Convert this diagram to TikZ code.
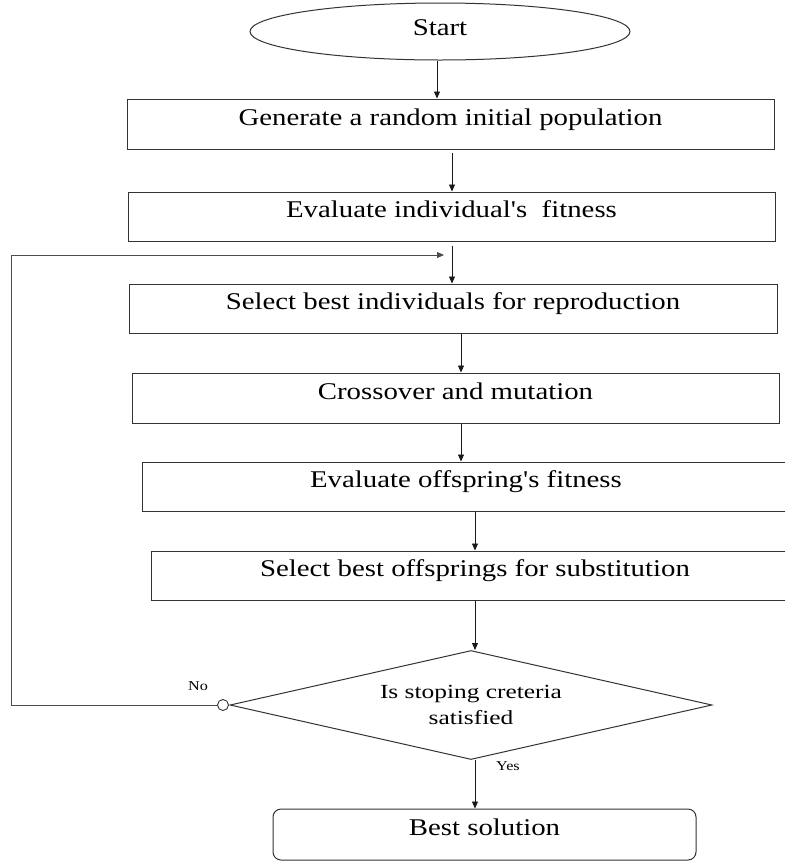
\documentclass[tikz,border=0pt]{standalone}
\usepackage{fontspec}
\setmainfont{Liberation Serif}
\usetikzlibrary{shapes.geometric,arrows.meta}
\newcommand\wt[1]{\scalebox{1.2}[1]{#1}}
\newcommand\wtd[1]{\scalebox{1.27}[1]{#1}}
\tikzset{
  boxnode/.style={draw=black!80, line width=1pt, rectangle, inner sep=0pt,
    text height=16pt, text depth=13.2pt, font=\fontsize{24}{28}\selectfont},
  arr/.style={-{Triangle[length=7pt,width=6pt]}, line width=0.9pt, draw=black!90},
  loopline/.style={line width=0.8pt, draw=black!70},
}
\begin{document}
\begin{tikzpicture}[x=1pt,y=-1pt]
\useasboundingbox (0,0) rectangle (785,863);
\fill[white] (0,0) rectangle (785,863);
\clip (0,0) rectangle (785,863);

\node[draw=black!80, line width=1pt, ellipse, inner sep=0pt, minimum width=380pt, minimum height=57pt,
  text height=16pt, text depth=8.2pt, font=\fontsize{24}{28}\selectfont] (start) at (440,31.5) {\wt{Start}};
\node[boxnode, minimum width=647pt, minimum height=50pt] (b1) at (450.5,124) {\wt{Generate a random initial population}};
\node[boxnode, minimum width=647pt, minimum height=49pt] (b2) at (451.5,216.5) {\wt{Evaluate individual\textquotesingle s\ \ fitness}};
\node[boxnode, minimum width=648pt, minimum height=49pt] (b3) at (453,308.5) {\wt{Select best individuals for reproduction}};
\node[boxnode, minimum width=647pt, minimum height=50pt] (b4) at (455.5,398) {\wt{Crossover and mutation}};
\node[boxnode, minimum width=648pt, minimum height=49pt] (b5) at (466,486.5) {\wt{Evaluate offspring\textquotesingle s fitness}};
\node[boxnode, minimum width=648pt, minimum height=49pt] (b6) at (475,575.5) {\wt{Select best offsprings for substitution}};
\node[draw=black!80, line width=1pt, diamond, shape aspect=4.42, inner sep=0pt, minimum width=482pt, minimum height=109pt,
  align=center, font=\fontsize{20}{26.5}\selectfont] (dec) at (471,705) {\wtd{Is stoping creteria}\\\wtd{satisfied}};
\node[boxnode, rounded corners=8pt, minimum width=423pt, minimum height=51pt] (best) at (484.5,834.5) {\wt{Best solution}};
\node[circle, draw=black!80, fill=white, line width=0.9pt, inner sep=0pt, minimum size=11pt] (circ) at (223,705) {};

\node[font=\fontsize{13.5}{16}\selectfont] (no) at (198,686) {\wt{No}};
\node[font=\fontsize{13.5}{16}\selectfont] (yes) at (508,766) {\wt{Yes}};

\coordinate (xa) at (437,0);
\coordinate (xb) at (452,0);
\coordinate (xc) at (461,0);
\coordinate (xd) at (475,0);
\coordinate (lc) at (11,255);
\coordinate (le) at (444,255);

\draw[arr] (start.south -| xa) -- (b1.north -| xa);
\draw[arr] ([yshift=-3pt]b1.south -| xb) -- (b2.north -| xb);
\draw[arr] ([yshift=-4pt]b2.south -| xb) -- (b3.north -| xb);
\draw[arr] (b3.south -| xc) -- (b4.north -| xc);
\draw[arr] (b4.south -| xc) -- (b5.north -| xc);
\draw[arr] (b5.south -| xd) -- (b6.north -| xd);
\draw[arr] (b6.south -| xd) -- (dec.north -| xd);
\draw[arr] (dec.south -| xd) -- (best.north -| xd);
\draw[loopline, -{Triangle[length=7pt,width=6pt]}] (circ.west) -| (lc) -- (le);
\end{tikzpicture}
\end{document}
